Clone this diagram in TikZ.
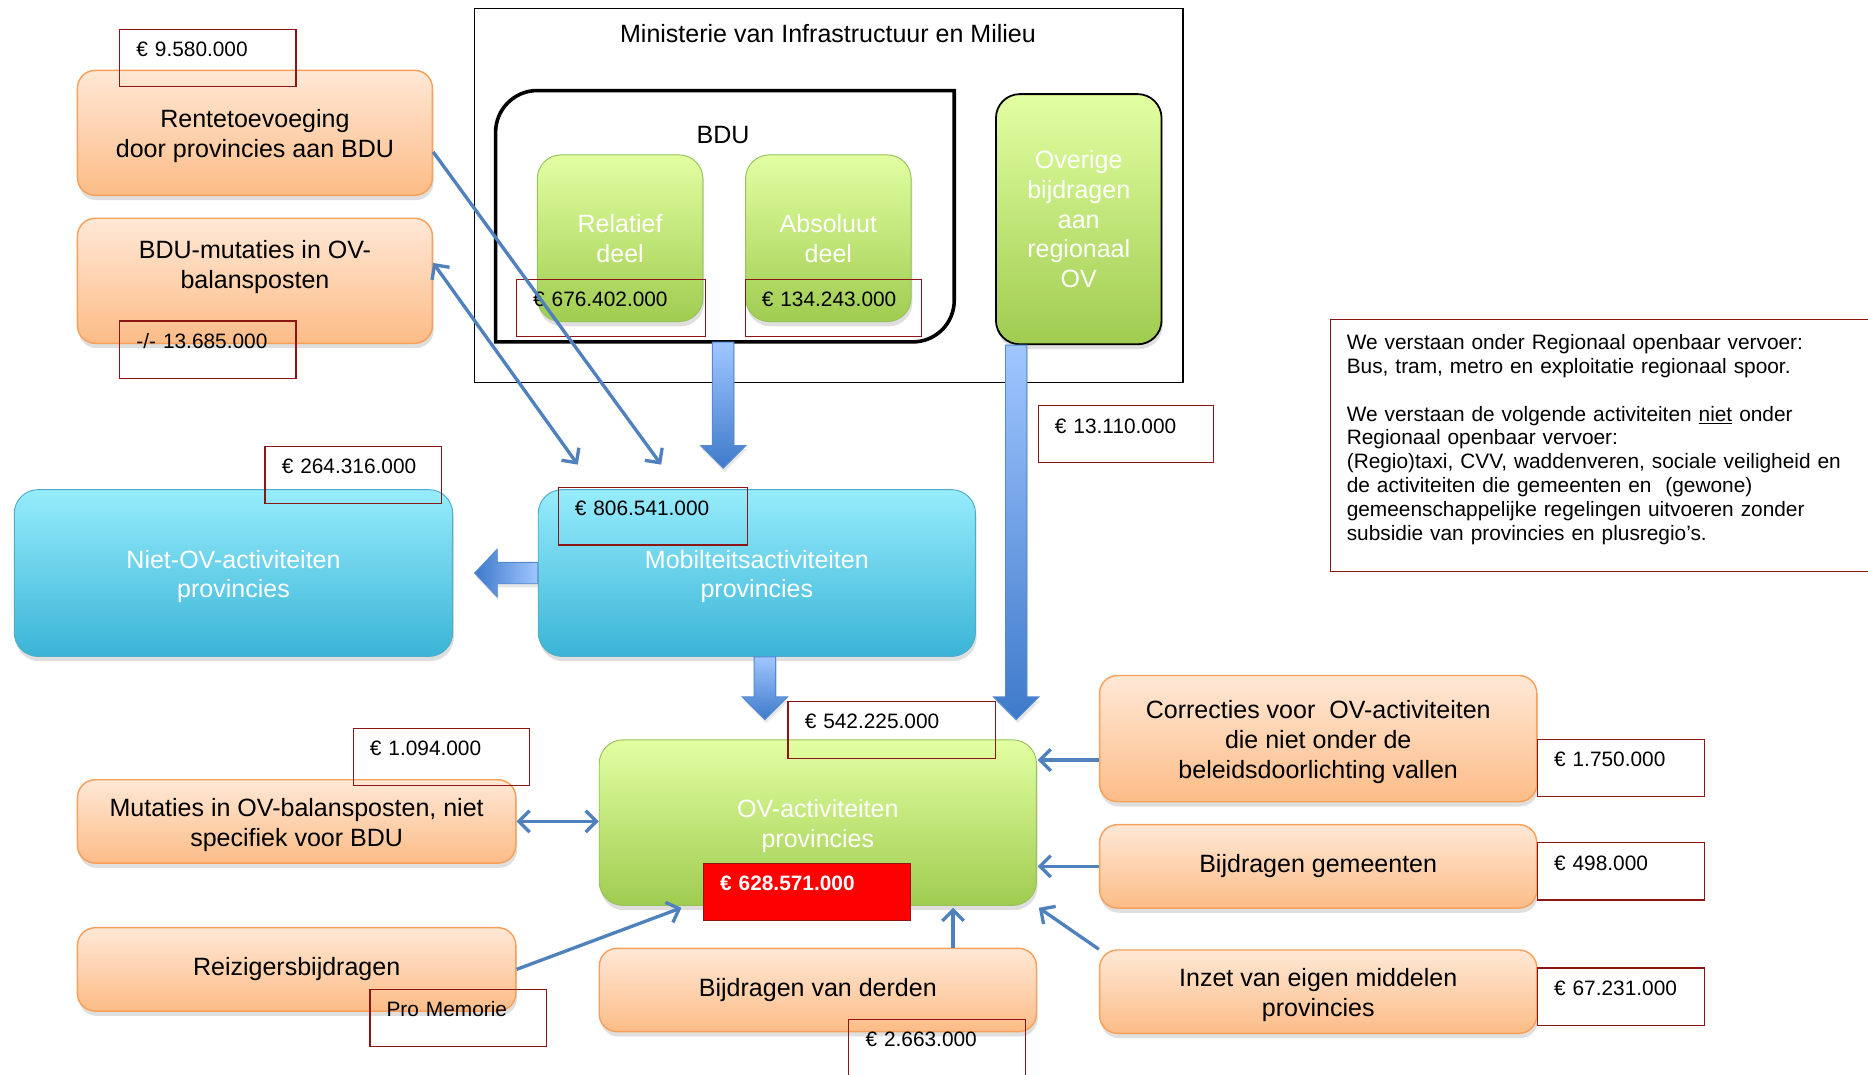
\documentclass[tikz,border=0pt]{standalone}
\usepackage{fontspec}
\setmainfont{Liberation Sans}
\usetikzlibrary{positioning,calc,shadows,arrows.meta}

\definecolor{orangetop}{RGB}{255,232,214}
\definecolor{orangebot}{RGB}{252,188,135}
\definecolor{orangeline}{RGB}{247,160,90}
\definecolor{bluetop}{RGB}{150,236,252}
\definecolor{bluebot}{RGB}{58,180,214}
\definecolor{blueline}{RGB}{80,172,200}
\definecolor{greentop}{RGB}{226,255,162}
\definecolor{greenbot}{RGB}{160,204,80}
\definecolor{greenline}{RGB}{150,195,90}
\definecolor{valred}{RGB}{140,22,22}
\definecolor{linkblue}{RGB}{79,129,189}
\definecolor{arrowtop}{RGB}{160,198,255}
\definecolor{arrowbot}{RGB}{62,122,202}
\definecolor{arrowline}{RGB}{85,138,208}

\newcommand{\boxfont}{\fontsize{21}{25}\selectfont}
\newcommand{\valfont}{\fontsize{17.5}{20}\selectfont}
\newcommand{\hoog}{\rule{0pt}{21pt}}

\begin{document}
\begin{tikzpicture}[x=1pt,y=-1pt,
    schaduw/.style={drop shadow={shadow xshift=1pt,shadow yshift=-4pt,opacity=.25}},
    oranje/.style={schaduw,rounded corners=15pt,draw=orangeline,line width=1.2pt,
      top color=orangetop,bottom color=orangebot,align=center,font=\boxfont,
      minimum width=368pt,minimum height=70pt},
    blauw/.style={schaduw,rounded corners=20pt,draw=blueline,line width=.8pt,
      top color=bluetop,bottom color=bluebot,text=white,align=center,font=\boxfont,
      minimum width=368pt,minimum height=140pt},
    groen/.style={schaduw,rounded corners=20pt,draw=greenline,line width=.8pt,
      top color=greentop,bottom color=greenbot,text=white,align=center,font=\boxfont},
    bedrag/.style={draw=valred,line width=1pt,anchor=north west,font=\valfont,align=left,
      text width=#1,inner xsep=14pt,inner ysep=7pt,text height=16pt,text depth=18pt},
    bedrag/.default=120pt,
    pijl/.style={draw=linkblue,line width=2.8pt,-{Straight Barb[length=9pt,width=18pt]}},
    dubbelpijl/.style={draw=linkblue,line width=2.8pt,
      {Straight Barb[length=9pt,width=18pt]}-{Straight Barb[length=9pt,width=18pt]}},
    blokpijl/.style={draw=arrowline,line width=.8pt,top color=arrowtop,bottom color=arrowbot,
      drop shadow={shadow xshift=1pt,shadow yshift=-3pt,opacity=.2}},
    blokpijllinks/.style={draw=arrowline,line width=.8pt,left color=arrowbot,right color=arrowtop,
      drop shadow={shadow xshift=1pt,shadow yshift=-3pt,opacity=.2}}]
  \useasboundingbox (0,0) rectangle (1568,902);

  \node[draw,line width=1pt,minimum width=595pt,minimum height=314pt] (ministerie) at (695.5,164) {};
  \node[font=\boxfont] (ministerietitel) at (695,28) {Ministerie van Infrastructuur en Milieu};
  \node[minimum width=385pt,minimum height=211pt] (bdu) at (608.5,181.5) {};
  \draw[line width=3pt] (416,287) -- (416,111) .. controls (416,91.7) and (431.7,76) .. (451,76)
    -- (801,76) -- (801,252) .. controls (801,271.3) and (785.7,287) .. (766,287) -- cycle;
  \node[font=\boxfont] (bdulabel) at (607,113) {BDU};

  \node[oranje,minimum width=298pt,minimum height=105pt] (rente) at (214,111.5) {\hoog Rentetoevoeging\\door provincies aan BDU};
  \node[oranje,minimum width=298pt,minimum height=105pt] (bdumut) [below=18pt of rente] {\hoog BDU-mutaties in OV-\\balansposten\rule[-33pt]{0pt}{0pt}};

  \node[groen,minimum width=139pt,minimum height=140pt] (relatief) at (520.5,200) {Relatief\\deel};
  \node[groen,minimum width=139pt,minimum height=140pt] (absoluut) [right=35pt of relatief] {Absoluut\\deel};
  \node[groen,draw=black,line width=1.5pt,minimum width=139pt,minimum height=210pt] (overige) at (905.5,184) {Overige\\bijdragen\\aan\\regionaal\\OV};

  \node[blauw] (nietov) at (196,481) {\hoog Niet-OV-activiteiten\\provincies};
  \node[blauw,minimum width=367pt] (mobiliteit) [right=71pt of nietov] {\hoog Mobilteitsactiviteiten\\provincies};

  \node[groen,minimum width=367pt,minimum height=139pt] (ovact) at (686.5,690.5) {\hoog OV-activiteiten\\provincies};
  \node[oranje,minimum width=367pt] (derden) [below=35pt of ovact] {Bijdragen van derden};
  \node[oranje] (mutaties) at (249,689.5) {\hoog Mutaties in OV-balansposten, niet\\specifiek voor BDU};
  \node[oranje] (reizigers) [below=53pt of mutaties] {Reizigersbijdragen};
  \node[oranje,minimum width=367pt,minimum height=106pt] (correcties) at (1106.5,620) {\hoog Correcties voor\ \ OV-activiteiten\\die niet onder de\\beleidsdoorlichting vallen};
  \node[oranje,minimum width=367pt] (gemeenten) [below=18pt of correcties] {Bijdragen gemeenten};
  \node[oranje,minimum width=367pt] (inzet) [below=34pt of gemeenten] {\hoog Inzet van eigen middelen\\provincies};

  \coordinate (puntA) at (607,393);
  \coordinate (puntB) at (853,604);
  \coordinate (puntC) at (642,604);
  \coordinate (puntD) at ($(nietov.east)+(18,0)$);
  \path[blokpijl] ($(bdu.south -| puntA)+(-9,0)$) -- ($(puntA)+(-9,-19)$) -- ($(puntA)+(-19,-19)$) -- (puntA)
    -- ($(puntA)+(19,-19)$) -- ($(puntA)+(9,-19)$) -- ($(bdu.south -| puntA)+(9,0)$) -- cycle;
  \path[blokpijl] ($(overige.south -| puntB)+(-9,0)$) -- ($(puntB)+(-9,-19)$) -- ($(puntB)+(-19,-19)$) -- (puntB)
    -- ($(puntB)+(19,-19)$) -- ($(puntB)+(9,-19)$) -- ($(overige.south -| puntB)+(9,0)$) -- cycle;
  \path[blokpijl] ($(mobiliteit.south -| puntC)+(-9,0)$) -- ($(puntC)+(-9,-19)$) -- ($(puntC)+(-19,-19)$) -- (puntC)
    -- ($(puntC)+(19,-19)$) -- ($(puntC)+(9,-19)$) -- ($(mobiliteit.south -| puntC)+(9,0)$) -- cycle;
  \path[blokpijllinks] ($(mobiliteit.west)+(0,-9)$) -- ($(puntD)+(19,-9)$) -- ($(puntD)+(19,-20)$) -- (puntD)
    -- ($(puntD)+(19,20)$) -- ($(puntD)+(19,9)$) -- ($(mobiliteit.west)+(0,9)$) -- cycle;

  \node[bedrag] (b9580) at (100,24) {€ 9.580.000};
  \node[bedrag] (b13685) at (100,269) {-/- 13.685.000};
  \node[bedrag=131pt] (b676) at (433,234) {€ 676.402.000};
  \node[bedrag] (b134) at (625,234) {€ 134.243.000};
  \node[bedrag=119pt] (b13110) at (871,340) {€ 13.110.000};
  \node[bedrag] (b264) at (222,374) {€ 264.316.000};
  \node[bedrag=131pt] (b806) at (468,409) {€ 806.541.000};
  \node[bedrag=146pt] (b542) at (661,588) {€ 542.225.000};
  \node[bedrag] (b1094) at (296,611) {€ 1.094.000};
  \node[bedrag=112pt] (b1750) at (1290,620) {€ 1.750.000};
  \node[bedrag=112pt] (b498) at (1290,707) {€ 498.000};
  \node[bedrag=112pt] (b67231) at (1290,812) {€ 67.231.000};
  \node[bedrag] (bpm) at (310,830) {Pro Memorie};
  \node[bedrag] (b2663) at (712,855) {€ 2.663.000};
  \node[bedrag=146pt,fill=red,text=white,font=\valfont\bfseries] (b628) at (590,724) {€ 628.571.000};

  \node[draw=valred,line width=1pt,anchor=north west,font=\valfont,align=left,text width=440pt,
    inner xsep=14pt,inner ysep=9pt,text height=16pt,text depth=177pt] (uitleg) at (1116,268)
    {We verstaan onder Regionaal openbaar vervoer:\\
     Bus, tram, metro en exploitatie regionaal spoor.\\[20pt]
     We verstaan de volgende activiteiten \underline{niet} onder\\
     Regionaal openbaar vervoer:\\
     (Regio)taxi, CVV, waddenveren, sociale veiligheid en\\
     de activiteiten die gemeenten en\ \ (gewone)\\
     gemeenschappelijke regelingen uitvoeren zonder\\
     subsidie van provincies en plusregio’s.};

  \coordinate (inA) at (555,390);
  \coordinate (inB) at (485,390);
  \coordinate (inR) at (572,762);
  \coordinate (inD) at (800,762);
  \coordinate (inC) at (871,638);
  \coordinate (inI) at (872,762);
  \draw[pijl] ([yshift=-16pt]rente.east) -- (inA);
  \draw[dubbelpijl] ([yshift=15pt]bdumut.east) -- (inB);
  \draw[dubbelpijl] (mutaties.east) -- (mutaties.east -| ovact.west);
  \draw[pijl] (reizigers.east) -- (inR);
  \draw[pijl] (derden.north -| inD) -- (inD);
  \draw[pijl] (inC -| correcties.west) -- (inC);
  \draw[pijl] (gemeenten.west) -- (gemeenten.west -| inC);
  \draw[pijl] (inzet.north west) -- (inI);
\end{tikzpicture}
\end{document}
